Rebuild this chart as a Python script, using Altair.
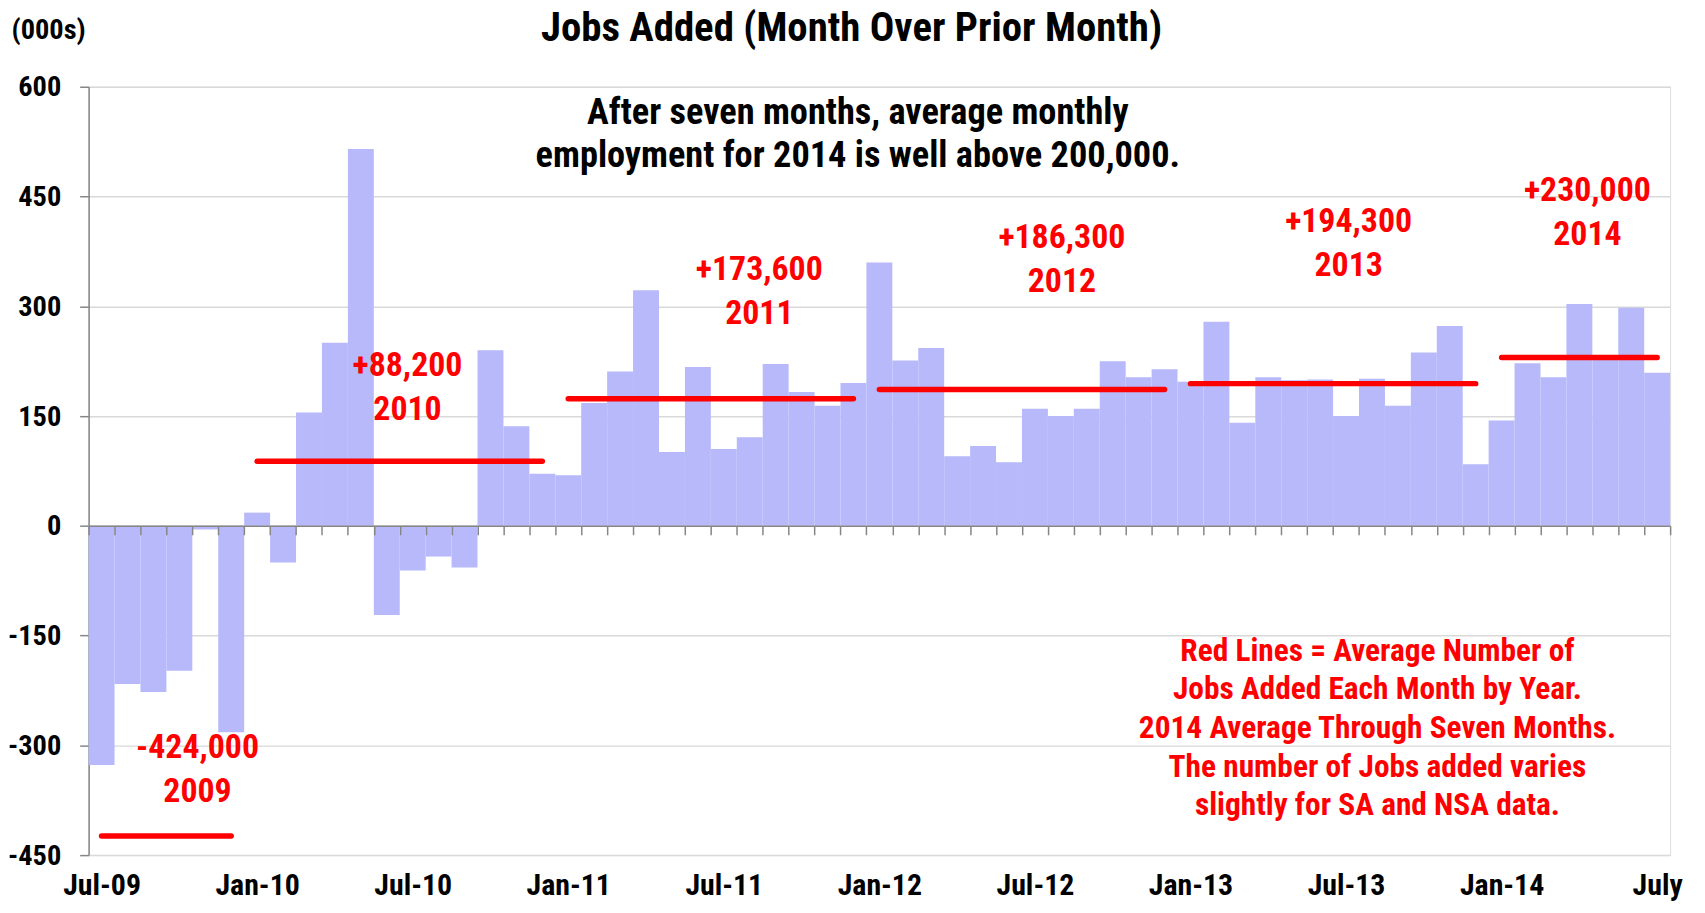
import altair as alt
import pandas as pd

# ---------------- data ----------------
months = [
    "Jul-09", "Aug-09", "Sep-09", "Oct-09", "Nov-09", "Dec-09",
    "Jan-10", "Feb-10", "Mar-10", "Apr-10", "May-10", "Jun-10",
    "Jul-10", "Aug-10", "Sep-10", "Oct-10", "Nov-10", "Dec-10",
    "Jan-11", "Feb-11", "Mar-11", "Apr-11", "May-11", "Jun-11",
    "Jul-11", "Aug-11", "Sep-11", "Oct-11", "Nov-11", "Dec-11",
    "Jan-12", "Feb-12", "Mar-12", "Apr-12", "May-12", "Jun-12",
    "Jul-12", "Aug-12", "Sep-12", "Oct-12", "Nov-12", "Dec-12",
    "Jan-13", "Feb-13", "Mar-13", "Apr-13", "May-13", "Jun-13",
    "Jul-13", "Aug-13", "Sep-13", "Oct-13", "Nov-13", "Dec-13",
    "Jan-14", "Feb-14", "Mar-14", "Apr-14", "May-14", "Jun-14",
    "Jul-14",
]
jobs = [
    -327, -216, -227, -198, -5, -282,
    18, -50, 155, 250, 515, -122, -61, -42, -57, 240, 136, 71,
    69, 168, 211, 322, 101, 217, 105, 121, 221, 183, 164, 195,
    360, 226, 243, 95, 109, 87, 160, 150, 160, 225, 203, 214,
    197, 279, 141, 203, 199, 200, 150, 201, 164, 237, 273, 84,
    144, 222, 203, 303, 229, 298, 209,
]

label_months = ["Jul-09", "Jan-10", "Jul-10", "Jan-11", "Jul-11", "Jan-12",
                "Jul-12", "Jan-13", "Jul-13", "Jan-14", "Jul-14"]
tick_labels = ["Jul-09", "Jan-10", "Jul-10", "Jan-11", "Jul-11", "Jan-12",
               "Jul-12", "Jan-13", "Jul-13", "Jan-14", "July"]
y_ticks = [-450, -300, -150, 0, 150, 300, 450, 600]

avg_years = ["2009", "2010", "2011", "2012", "2013", "2014"]
avg_values = [-424.0, 88.2, 173.6, 186.3, 194.3, 230.0]
avg_first = ["Jul-09", "Jan-10", "Jan-11", "Jan-12", "Jan-13", "Jan-14"]
avg_last = ["Dec-09", "Dec-10", "Dec-11", "Dec-12", "Dec-13", "Jul-14"]
avg_labels = ["-424,000", "+88,200", "+173,600", "+186,300", "+194,300", "+230,000"]

note_lines = [
    "Red Lines = Average Number of",
    "Jobs Added Each Month by Year.",
    "2014 Average Through Seven Months.",
    "The number of Jobs added varies",
    "slightly for SA and NSA data.",
]
headline_lines = [
    "After seven months, average monthly",
    "employment for 2014 is well above 200,000.",
]

# ---------------- layout / style ----------------
FONT = "Roboto Condensed, Liberation Sans, Arial, sans-serif"
W, H = 1589, 772
YMIN, YMAX = -450, 600
N = len(months)
zero_offset = -H * (0 - YMIN) / (YMAX - YMIN)
BAR = "#b7b9fb"
RED = "#ff0000"
GRAY = "#868686"

# annotation placements (data space: month index, value of first line)
avg_label_x = [4.2, 12.3, 25.87, 37.54, 48.6, 57.81]
avg_label_y = [-303.9, 217.8, 349.0, 393.5, 415.0, 457.2]
headline_pos = (29.67, 564.6)
note_pos = (49.71, -172.2)

df = pd.DataFrame({"month": months, "jobs": jobs})
df["i"] = range(N)
df["i2"] = df["i"] + 1

avg_df = pd.DataFrame({
    "year": avg_years,
    "avg": avg_values,
    "xs": [months.index(m) + 0.5 for m in avg_first],
    "xe": [months.index(m) + 0.5 for m in avg_last],
})
lab_df = pd.DataFrame({
    "text": [a + "\n" + y for a, y in zip(avg_labels, avg_years)],
    "x": avg_label_x,
    "y": avg_label_y,
})
head_df = pd.DataFrame({"text": ["\n".join(headline_lines)],
                        "x": [headline_pos[0]], "y": [headline_pos[1]]})
note_df = pd.DataFrame({"text": ["\n".join(note_lines)],
                        "x": [note_pos[0]], "y": [note_pos[1]]})

tick_label_arr = [""] * (N + 1)
for m, lab in zip(label_months, tick_labels):
    tick_label_arr[months.index(m)] = lab
label_expr = "[" + ",".join("'%s'" % s for s in tick_label_arr) + "][datum.value]"

xscale = alt.Scale(domain=[0, N], nice=False, zero=False)
yscale = alt.Scale(domain=[YMIN, YMAX], nice=False, zero=False)

x_axis = alt.Axis(
    orient="bottom", values=list(range(N + 1)), offset=zero_offset,
    domainColor=GRAY, domainWidth=1.5, tickColor=GRAY, tickSize=9, tickWidth=1.5,
    labelExpr=label_expr, labelOffset=W / N / 2, labelPadding=-zero_offset + 40 - 9,
    labelBaseline="alphabetic", labelAlign="center", labelFont=FONT, labelFontSize=30,
    labelFontWeight="bold", labelColor="black", labelOverlap=False,
    labelBound=False, labelFlush=False, grid=False, title=None, zindex=1,
)
y_axis = alt.Axis(
    values=y_ticks, grid=True, gridColor="#d9d9d9", gridWidth=1.5,
    domainColor=GRAY, domainWidth=1.5, tickColor=GRAY, tickSize=9, tickWidth=1.5,
    labelExpr="'' + datum.value", labelFont=FONT, labelFontSize=28.5,
    labelFontWeight="bold", labelColor="black", labelPadding=19,
    title="(000s)", titleAngle=0, titleAlign="left", titleBaseline="middle",
    titleX=-78, titleY=-57, titleFont=FONT, titleFontSize=28.5,
    titleFontWeight="bold", titleColor="black",
)

X = lambda f: alt.X(f, type="quantitative", scale=xscale, axis=x_axis)
Y = lambda f: alt.Y(f, type="quantitative", scale=yscale, axis=y_axis)

bars = alt.Chart(df).mark_rect(color=BAR).encode(
    x=X("i"), x2="i2", y=Y("jobs"), y2=alt.datum(0),
)
rules = alt.Chart(avg_df).mark_rule(color=RED, strokeWidth=5.5, strokeCap="round").encode(
    x=X("xs"), x2="xe", y=Y("avg"),
)
labels = alt.Chart(lab_df).mark_text(
    color=RED, font=FONT, fontSize=34, fontWeight="bold", lineBreak="\n",
    lineHeight=44, align="center", baseline="middle",
).encode(x=X("x"), y=Y("y"), text="text:N")
headline = alt.Chart(head_df).mark_text(
    color="black", font=FONT, fontSize=36.5, fontWeight="bold", lineBreak="\n",
    lineHeight=43.5, align="center", baseline="middle",
).encode(x=X("x"), y=Y("y"), text="text:N")
note = alt.Chart(note_df).mark_text(
    color=RED, font=FONT, fontSize=31.5, fontWeight="bold", lineBreak="\n",
    lineHeight=38.8, align="center", baseline="middle",
).encode(x=X("x"), y=Y("y"), text="text:N")

chart = alt.layer(bars, rules, labels, headline, note).properties(
    width=W, height=H,
    title=alt.Title(
        "Jobs Added (Month Over Prior Month)", font=FONT, fontSize=41,
        fontWeight="bold", color="black", anchor="middle", frame="group",
        dx=-28, offset=-66.5, baseline="alphabetic",
    ),
    padding={"left": 81, "top": 77, "right": 27, "bottom": 48},
    autosize=alt.AutoSizeParams(type="none"),
).configure_view(stroke=None).configure(background="white")

chart.save("out.html", embed_options={"renderer": "svg", "actions": False})
